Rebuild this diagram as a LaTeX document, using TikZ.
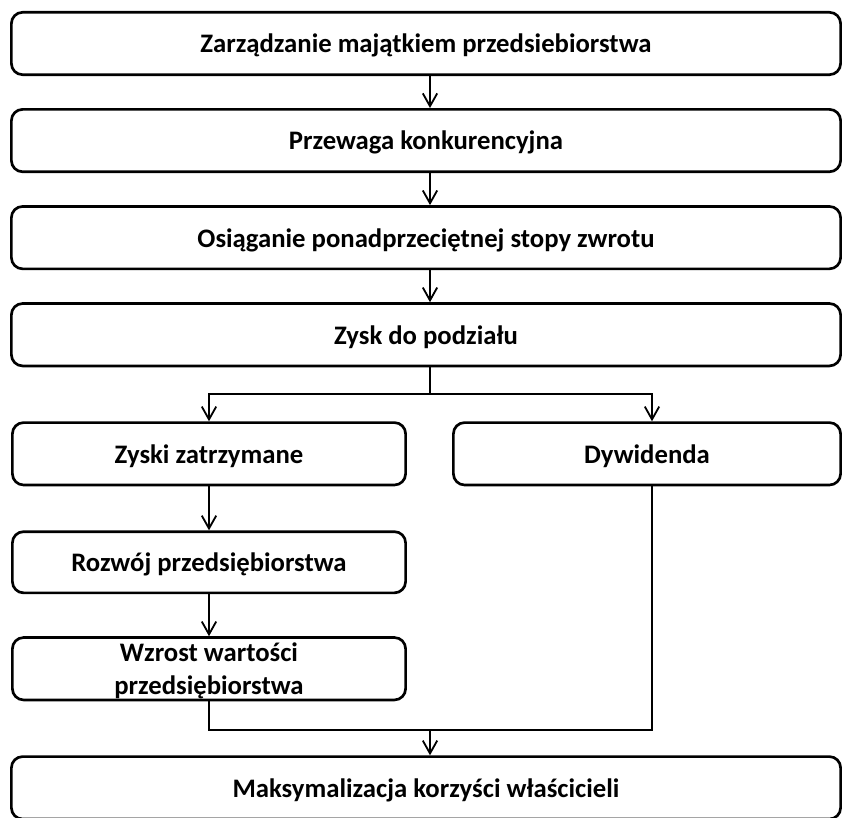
\documentclass[tikz,border=0pt]{standalone}
\usepackage{fontspec}
\setmainfont{Carlito}
\usetikzlibrary{positioning, arrows.meta}

\begin{document}
\begin{tikzpicture}[
    font=\fontsize{19}{23.4}\selectfont\bfseries,
    wide/.style={rectangle, rounded corners=0.28cm, draw, line width=1.9pt, minimum width=20.73cm, minimum height=1.56cm, inner sep=0pt, text height=15pt, text depth=1.6pt, text centered},
    half/.style={wide, minimum width=9.83cm},
    line/.style={line width=1.3pt},
    arrow/.style={line, -{Straight Barb[length=0.32cm, width=0.36cm, line width=1.3pt]}},
    node distance=0.8cm
]
\clip (0,0) rectangle (21.1,-20.425);

% Main chain
\node[wide] (zarz) at (10.65,-1.0875) {Zarządzanie majątkiem przedsiebiorstwa};
\node[wide, below=of zarz] (przew) {Przewaga konkurencyjna};
\node[wide, below=of przew] (stopa) {Osiąganie ponadprzeciętnej stopy zwrotu};
\node[wide, below=of stopa] (zysk) {Zysk do podziału};

% Split
\node[half, anchor=north west] (zatrz) at ([xshift=0.025cm, yshift=-1.35cm]zysk.south west) {Zyski zatrzymane};
\node[half, minimum width=9.68cm, anchor=north east] (dyw) at ([yshift=-1.35cm]zysk.south east) {Dywidenda};
\node[half, minimum height=1.53cm, below=1.1cm of zatrz] (rozw) {Rozwój przedsiębiorstwa};
\node[half, below=1.05cm of rozw, align=center, text height=38.4pt] (wzrost) {Wzrost wartości\\przedsiębiorstwa};

% Bottom
\node[wide, anchor=north] (maks) at ([yshift=-1.35cm]wzrost.south -| zarz.south) {Maksymalizacja korzyści właścicieli};

% Arrows
\draw[arrow] ([xshift=0.1cm]zarz.south) -- ([xshift=0.1cm]przew.north);
\draw[arrow] ([xshift=0.1cm]przew.south) -- ([xshift=0.1cm]stopa.north);
\draw[arrow] ([xshift=0.1cm]stopa.south) -- ([xshift=0.1cm]zysk.north);

\coordinate (split) at ([xshift=0.1cm, yshift=-0.675cm]zysk.south);
\draw[line] ([xshift=0.1cm]zysk.south) -- (split);
\draw[arrow] (split) -| (zatrz.north);
\draw[arrow] (split) -| ([xshift=0.125cm]dyw.north);

\draw[arrow] (zatrz) -- (rozw);
\draw[arrow] (rozw) -- (wzrost);

\coordinate (merge) at ([yshift=-0.725cm]wzrost.south -| split);
\draw[line] (wzrost.south) |- (merge) -| ([xshift=0.125cm]dyw.south);
\draw[arrow] (merge) -- (maks.north -| merge);

\end{tikzpicture}
\end{document}
